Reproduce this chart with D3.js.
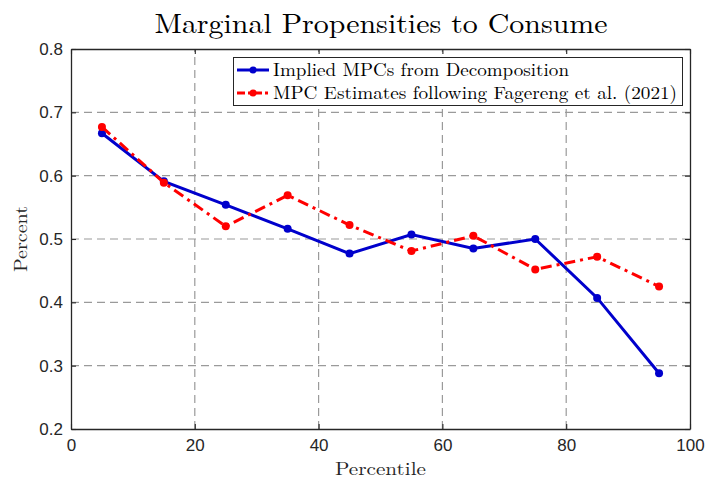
<!DOCTYPE html>
<html><head><meta charset="utf-8">
<script src="https://cdn.jsdelivr.net/npm/d3@7"></script>
<style>body{margin:0;background:#fff}svg{display:block}</style>
</head><body><div id="chart"></div>
<script>
const percentiles = [5,15,25,35,45,55,65,75,85,95];
const impliedMPC = [0.667,0.591,0.554,0.516,0.477,0.507,0.485,0.500,0.407,0.288];
const faggerengMPC = [0.677,0.589,0.520,0.569,0.522,0.481,0.505,0.452,0.472,0.425];
const xTicks = [0,20,40,60,80,100];
const yTicks = [0.2,0.3,0.4,0.5,0.6,0.7,0.8];
const seriesNames = ["Implied MPCs from Decomposition","MPC Estimates following Fagereng et al. (2021)"];

const W=709,H=480;
const m={l:71,r:19,t:49,b:51};
const svg=d3.select("#chart").append("svg").attr("width",W).attr("height",H);
const x=d3.scaleLinear().domain([0,100]).range([m.l,W-m.r]);
const y=d3.scaleLinear().domain([0.2,0.8]).range([H-m.b,m.t]);
const axisCol="#262626";
const serif="'Latin Modern Roman','CMU Serif','Liberation Serif','Times New Roman',serif";
const sans="'Liberation Sans',Arial,Helvetica,sans-serif";

// grid
const g=svg.append("g");
g.selectAll(".gx").data(xTicks.slice(1,-1)).join("line")
 .attr("x1",d=>x(d)).attr("x2",d=>x(d)).attr("y1",y(0.2)).attr("y2",y(0.8))
 .attr("stroke","#9a9a9a").attr("stroke-width",1.2).attr("stroke-dasharray","8,5");
g.selectAll(".gy").data(yTicks.slice(1,-1)).join("line")
 .attr("y1",d=>y(d)).attr("y2",d=>y(d)).attr("x1",x(0)).attr("x2",x(100))
 .attr("stroke","#9a9a9a").attr("stroke-width",1.2).attr("stroke-dasharray","8,5");

// axes
const ax=svg.append("g").attr("transform",`translate(0,${y(0.2)})`)
 .call(d3.axisBottom(x).tickValues(xTicks).tickSize(-5).tickPadding(10).tickSizeOuter(0));
const axT=svg.append("g").attr("transform",`translate(0,${y(0.8)})`)
 .call(d3.axisTop(x).tickValues(xTicks).tickSize(-5).tickFormat("").tickSizeOuter(0));
const ay=svg.append("g").attr("transform",`translate(${x(0)},0)`)
 .call(d3.axisLeft(y).tickValues(yTicks).tickSize(-5).tickPadding(8).tickFormat(d3.format(".1f")).tickSizeOuter(0));
const ayR=svg.append("g").attr("transform",`translate(${x(100)},0)`)
 .call(d3.axisRight(y).tickValues(yTicks).tickSize(-5).tickFormat("").tickSizeOuter(0));
[ax,axT,ay,ayR].forEach(a=>{
 a.selectAll("path").attr("stroke",axisCol).attr("stroke-width",1.3);
 a.selectAll("line").attr("stroke",axisCol).attr("stroke-width",1.1);
 a.selectAll("text").attr("fill",axisCol).style("font-family",sans).style("font-size","17px");
});

// lines
const line=d3.line().x((d,i)=>x(percentiles[i])).y(d=>y(d));
const series=[
 {vals:impliedMPC,col:"#0000cc",dash:null},
 {vals:faggerengMPC,col:"#ff0000",dash:"11,5,3,5"}
];
series.forEach(s=>{
 svg.append("path").datum(s.vals).attr("d",line).attr("fill","none")
  .attr("stroke",s.col).attr("stroke-width",3).attr("stroke-dasharray",s.dash);
 svg.append("g").selectAll("circle").data(s.vals).join("circle")
  .attr("cx",(d,i)=>x(percentiles[i])).attr("cy",d=>y(d)).attr("r",4).attr("fill",s.col);
});

// legend
const legendWidths=[296,404];
const lg=svg.append("g");
lg.append("rect").attr("x",233.5).attr("y",57.5).attr("width",449).attr("height",48)
 .attr("fill","#fff").attr("stroke",axisCol).attr("stroke-width",1);
series.forEach((s,i)=>{
 const yy=70+i*23;
 lg.append("line").attr("x1",237).attr("x2",269).attr("y1",yy).attr("y2",yy)
  .attr("stroke",s.col).attr("stroke-width",3).attr("stroke-dasharray",s.dash?"8,3,3,3":null);
 lg.append("circle").attr("cx",253).attr("cy",yy).attr("r",3.5).attr("fill",s.col);
 lg.append("text").attr("x",273).attr("y",yy+6).text(seriesNames[i])
  .attr("textLength",legendWidths[i]).attr("lengthAdjust","spacingAndGlyphs")
  .style("font-family",serif).style("font-size","18px").attr("fill","#000");
});

// title & labels
const cx=(x(0)+x(100))/2;
svg.append("text").attr("x",cx-226).attr("y",33)
 .attr("textLength",453).attr("lengthAdjust","spacingAndGlyphs")
 .style("font-family",serif).style("font-size","28px").text("Marginal Propensities to Consume");
svg.append("text").attr("x",cx-45.5).attr("y",475)
 .attr("textLength",91).attr("lengthAdjust","spacingAndGlyphs")
 .style("font-family",serif).style("font-size","18.5px").attr("fill",axisCol).text("Percentile");
svg.append("text").attr("transform",`translate(27,${(y(0.2)+y(0.8))/2+33}) rotate(-90)`)
 .attr("textLength",66).attr("lengthAdjust","spacingAndGlyphs")
 .style("font-family",serif).style("font-size","18.5px").attr("fill",axisCol).text("Percent");
</script></body></html>
